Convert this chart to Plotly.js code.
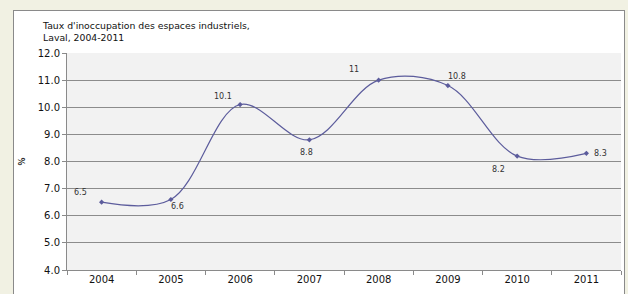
<!DOCTYPE html>
<html>
<head>
<meta charset="utf-8">
<script src="https://cdn.plot.ly/plotly-3.0.1.min.js"></script>
<style>
html,body{margin:0;padding:0;background:#f1f1e3;}
#panel{position:absolute;left:13px;top:10px;width:612px;height:300px;background:#ffffff;border:1px solid #8a8a8a;box-sizing:border-box;}
#chart{position:absolute;left:0;top:0;width:628px;height:294px;}
</style>
</head>
<body>
<div id="panel"></div>
<div id="chart"></div>
<script>
const years = ['2004','2005','2006','2007','2008','2009','2010','2011'];
const rates = [6.5, 6.6, 10.1, 8.8, 11, 10.8, 8.2, 8.3];
const labels = ['6.5','6.6','10.1','8.8','11','10.8','8.2','8.3'];
const yTicks = [4,5,6,7,8,9,10,11,12];

const labelShift = [[-21,10],[7,-7],[-17,8],[-3,-13],[-25,11],[9,9],[-19,-13],[14,0]];

const lineColor = '#5c5c9c';

const trace = {
  x: years,
  y: rates,
  type: 'scatter',
  mode: 'lines+markers',
  line: {color: lineColor, width: 1.2, shape: 'spline', smoothing: 1},
  marker: {symbol: 'diamond', size: 4, color: lineColor},
  hoverinfo: 'skip'
};

const annotations = years.map((yr, i) => ({
  x: i, y: rates[i], xref: 'x', yref: 'y',
  text: labels[i], showarrow: false,
  xshift: labelShift[i][0], yshift: labelShift[i][1],
  font: {family: 'DejaVu Sans', size: 8, color: '#333333'}
}));

const layout = {
  width: 628, height: 294,
  margin: {l: 67, r: 7, t: 53, b: 24},
  paper_bgcolor: 'rgba(0,0,0,0)',
  plot_bgcolor: '#f2f2f2',
  showlegend: false,
  font: {family: 'DejaVu Sans', size: 10, color: '#111111'},
  title: {
    text: "Taux d'inoccupation des espaces industriels,<br>Laval, 2004-2011",
    xref: 'container', yref: 'container',
    x: 43/628, xanchor: 'left',
    y: 1 - 29/294, yanchor: 'middle',
    font: {family: 'DejaVu Sans', size: 9.3, color: '#111111'}
  },
  xaxis: {
    type: 'category',
    categoryorder: 'array', categoryarray: years,
    range: [-0.5, years.length - 0.5],
    autorange: false,
    showgrid: false,
    showline: true, linecolor: '#8a8a8a', linewidth: 1,
    ticks: 'outside', tickson: 'boundaries', ticklen: 4, tickcolor: '#8a8a8a',
    tickfont: {family: 'DejaVu Sans', size: 10, color: '#111111'},
    fixedrange: true
  },
  yaxis: {
    range: [4, 12],
    autorange: false,
    tickvals: yTicks,
    tickformat: '.1f',
    showgrid: true, gridcolor: '#8c8c8c', gridwidth: 1,
    showline: true, linecolor: '#8a8a8a', linewidth: 1,
    ticks: 'outside', ticklen: 4, tickcolor: '#8a8a8a',
    zeroline: false,
    tickfont: {family: 'DejaVu Sans', size: 10, color: '#111111'},
    title: {text: '<b>%</b>', font: {family: 'DejaVu Sans', size: 8, color: '#222222'}, standoff: 10},
    fixedrange: true
  },
  annotations: annotations
};

Plotly.newPlot('chart', [trace], layout, {displayModeBar: false, staticPlot: true});
</script>
</body>
</html>
